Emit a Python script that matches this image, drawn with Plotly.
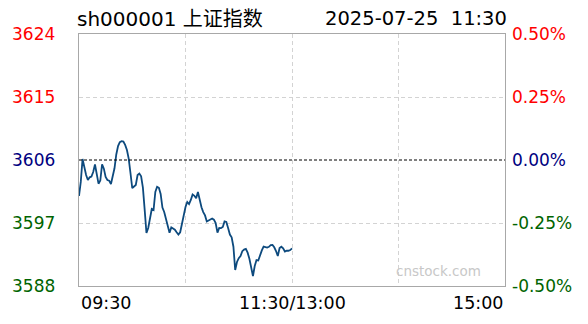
import plotly.graph_objects as go

# ---------------- data ----------------
SYMBOL = "sh000001 上证指数"
STAMP = "2025-07-25\u00a0\u00a011:30"
PREV_CLOSE = 3605.73
PCT_LEVELS = [0.005, 0.0025, 0.0, -0.0025, -0.005]
X_LABELS = ["09:30", "11:30/13:00", "15:00"]
X_LABEL_POS = [0, 120, 240]
SESSION_MINUTES = 240

PRICES = [
    3600.58, 3602.60, 3605.87, 3604.59, 3603.58, 3602.87, 3603.25, 3603.37, 3604.01, 3605.09,
    3603.78, 3602.34, 3602.80, 3605.09, 3604.49, 3603.30, 3602.87, 3602.78, 3602.30, 3603.66,
    3604.54, 3606.52, 3607.73, 3608.29, 3608.42, 3608.36, 3607.89, 3607.16, 3605.94, 3603.87,
    3601.72, 3601.94, 3602.15, 3603.58, 3603.80, 3603.40, 3601.78, 3598.60, 3595.29, 3596.00,
    3597.65, 3598.72, 3598.58, 3601.15, 3601.90, 3601.75, 3600.87, 3598.93, 3598.29, 3597.15,
    3596.47, 3595.33, 3596.09, 3595.96, 3595.76, 3595.39, 3595.06, 3595.39, 3596.57, 3598.00,
    3599.01, 3599.72, 3599.43, 3600.01, 3600.79, 3600.61, 3600.26, 3601.15, 3599.94, 3598.96,
    3598.28, 3597.80, 3596.94, 3597.10, 3597.25, 3597.36, 3597.19, 3596.72, 3595.33, 3596.00,
    3595.99, 3596.14, 3596.94, 3596.87, 3596.00, 3595.06, 3594.68, 3593.32, 3589.99, 3591.14,
    3591.69, 3591.99, 3592.68, 3592.92, 3593.01, 3592.47, 3591.59, 3590.35, 3589.13, 3590.56,
    3591.42, 3591.35, 3592.14, 3592.80, 3593.34, 3593.24, 3593.20, 3593.31, 3593.54, 3593.57,
    3593.24, 3592.71, 3591.99, 3593.14, 3593.32, 3593.10, 3592.64, 3592.77, 3592.75, 3592.85,
    3593.10,
]
MINUTES = list(range(len(PRICES)))

# ---------------- style ----------------
FONT = "DejaVu Sans, Noto Sans CJK SC, sans-serif"
RED, NAVY, GREEN = "#ff0000", "#000080", "#006400"
GRID = "#d3d3d3"
FRAME = "#a8a8a8"
W, H = 588, 324
L, R, T, B = 79, 83, 34, 38
PW, PH = W - L - R, H - T - B


def px_x(px):
    return (px - L) / PW


def px_y(py):
    return (H - B - py) / PH


levels = [PREV_CLOSE * (1 + p) for p in PCT_LEVELS]
ymin, ymax = min(levels), max(levels)

fig = go.Figure()
fig.add_trace(go.Scatter(
    x=MINUTES, y=PRICES, mode="lines",
    line=dict(color="#0d4a7e", width=1.8),
    hoverinfo="skip", showlegend=False,
))

fig.add_shape(type="line", xref="paper", x0=0, x1=1, yref="y",
              y0=PREV_CLOSE, y1=PREV_CLOSE,
              line=dict(color="#000000", width=1, dash="3px,2px"))

annotations = []
for p, lv in zip(PCT_LEVELS, levels):
    col = RED if p > 0 else (NAVY if p == 0 else GREEN)
    annotations.append(dict(xref="paper", yref="y", x=px_x(10), y=lv, xanchor="left",
                            yanchor="middle", text=f"{lv:.0f}", showarrow=False,
                            font=dict(family=FONT, size=17, color=col)))
    annotations.append(dict(xref="paper", yref="y", x=px_x(510), y=lv, xanchor="left",
                            yanchor="middle", text=f"{p*100:.2f}%", showarrow=False,
                            font=dict(family=FONT, size=17, color=col)))

anchors = ["left", "center", "right"]
for lab, pos, anc in zip(X_LABELS, X_LABEL_POS, anchors):
    annotations.append(dict(xref="x", yref="paper", x=pos, y=px_y(303), xanchor=anc,
                            yanchor="middle", text=lab, showarrow=False,
                            font=dict(family=FONT, size=17.5, color="#000000")))

annotations.append(dict(xref="paper", yref="paper", x=px_x(75), y=px_y(19), xanchor="left",
                        yanchor="middle", text=SYMBOL, showarrow=False,
                        font=dict(family=FONT, size=20, color="#000000")))
annotations.append(dict(xref="paper", yref="paper", x=px_x(509), y=px_y(19), xanchor="right",
                        yanchor="middle", text=STAMP, showarrow=False,
                        font=dict(family=FONT, size=19.5, color="#000000")))
annotations.append(dict(xref="paper", yref="paper", x=px_x(438), y=px_y(271), xanchor="center",
                        yanchor="middle", text="cnstock.com", showarrow=False,
                        font=dict(family=FONT, size=13.5, color="#c8c8c8")))

fig.update_layout(
    width=W, height=H,
    margin=dict(l=L, r=R, t=T, b=B, pad=0),
    paper_bgcolor="#ffffff", plot_bgcolor="#ffffff",
    annotations=annotations,
    xaxis=dict(range=[0, SESSION_MINUTES], tickvals=[60, 120, 180], showticklabels=False,
               showgrid=True, gridcolor=GRID, griddash="4px,3px", gridwidth=1,
               zeroline=False, showline=True, linecolor=FRAME, linewidth=1, mirror=True,
               ticks=""),
    yaxis=dict(range=[ymin, ymax], tickvals=[levels[1], levels[3]], showticklabels=False,
               showgrid=True, gridcolor=GRID, griddash="4px,3px", gridwidth=1,
               zeroline=False, showline=True, linecolor=FRAME, linewidth=1, mirror=True,
               ticks=""),
    hovermode=False,
)

fig.write_html("out.html")
